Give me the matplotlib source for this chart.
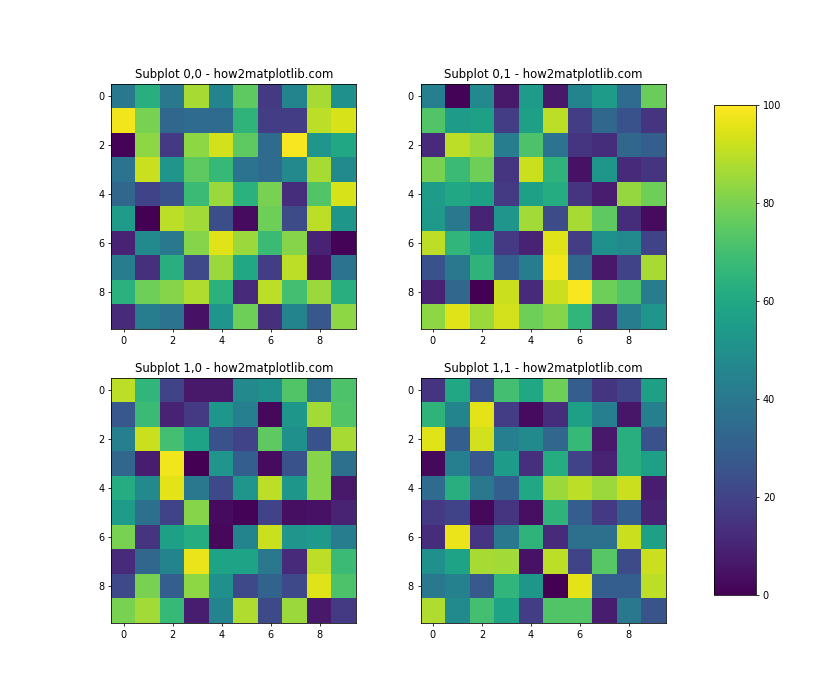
import matplotlib
matplotlib.use("Agg")
import matplotlib.pyplot as plt
import numpy as np

# values, one 10x10 grid per subplot
data_00 = [
    [40, 63, 40, 87, 45, 75, 17, 45, 87, 50],
    [98, 80, 33, 35, 35, 65, 18, 18, 90, 94],
    [1, 83, 17, 83, 93, 75, 35, 99, 52, 60],
    [38, 92, 52, 75, 67, 38, 35, 47, 87, 48],
    [33, 20, 25, 68, 85, 64, 80, 13, 73, 94],
    [55, 0, 90, 86, 24, 3, 78, 23, 90, 53],
    [10, 48, 40, 82, 95, 85, 68, 82, 10, 1],
    [42, 14, 63, 22, 85, 60, 18, 90, 5, 38],
    [64, 78, 82, 88, 64, 12, 90, 70, 85, 63],
    [12, 42, 38, 5, 52, 78, 14, 45, 27, 83],
]
data_01 = [
    [43, 1, 48, 7, 55, 7, 45, 55, 35, 77],
    [73, 55, 57, 18, 57, 90, 18, 33, 25, 15],
    [12, 90, 85, 42, 72, 38, 15, 13, 33, 30],
    [80, 68, 78, 15, 92, 65, 5, 53, 12, 15],
    [55, 60, 57, 17, 57, 62, 15, 8, 84, 78],
    [54, 40, 10, 52, 86, 23, 87, 75, 13, 3],
    [90, 66, 57, 17, 10, 95, 18, 50, 48, 20],
    [25, 40, 65, 30, 42, 98, 33, 7, 20, 87],
    [10, 33, 0, 92, 12, 92, 99, 78, 73, 42],
    [83, 95, 85, 93, 78, 82, 66, 13, 42, 52],
]
data_10 = [
    [90, 66, 20, 7, 7, 47, 50, 73, 38, 72],
    [27, 68, 10, 17, 53, 43, 2, 53, 86, 73],
    [43, 92, 70, 58, 25, 20, 75, 50, 25, 87],
    [33, 8, 98, 0, 52, 30, 3, 25, 82, 37],
    [62, 47, 96, 40, 22, 52, 90, 53, 82, 7],
    [55, 37, 20, 82, 3, 1, 20, 4, 5, 10],
    [80, 15, 57, 62, 2, 45, 92, 52, 54, 42],
    [12, 33, 45, 97, 58, 58, 40, 12, 90, 68],
    [22, 80, 30, 83, 50, 22, 32, 22, 95, 72],
    [80, 86, 67, 8, 45, 88, 22, 85, 7, 17],
]
data_11 = [
    [15, 60, 25, 70, 60, 78, 30, 15, 20, 57],
    [65, 45, 96, 18, 3, 13, 57, 43, 6, 43],
    [95, 30, 93, 43, 48, 33, 67, 7, 63, 25],
    [2, 43, 27, 55, 14, 62, 20, 10, 63, 57],
    [35, 63, 40, 30, 60, 85, 90, 85, 92, 8],
    [17, 20, 2, 15, 4, 65, 30, 17, 30, 10],
    [13, 97, 15, 40, 65, 12, 37, 37, 92, 57],
    [50, 58, 87, 86, 5, 90, 20, 74, 23, 92],
    [40, 44, 28, 66, 53, 0, 96, 30, 30, 90],
    [88, 48, 70, 58, 18, 73, 73, 8, 40, 26],
]
grids = [[data_00, data_01], [data_10, data_11]]

fig, axs = plt.subplots(2, 2, figsize=(12, 10), dpi=70)

for i in range(2):
    for j in range(2):
        im = axs[i, j].imshow(np.array(grids[i][j]), cmap='viridis', vmin=0, vmax=100)
        axs[i, j].set_title(f'Subplot {i},{j} - how2matplotlib.com', fontsize=12)

fig.subplots_adjust(right=0.8)
cbar_ax = fig.add_axes([0.85, 0.15, 0.05, 0.7])
fig.colorbar(im, cax=cbar_ax)

plt.savefig('out.png')
